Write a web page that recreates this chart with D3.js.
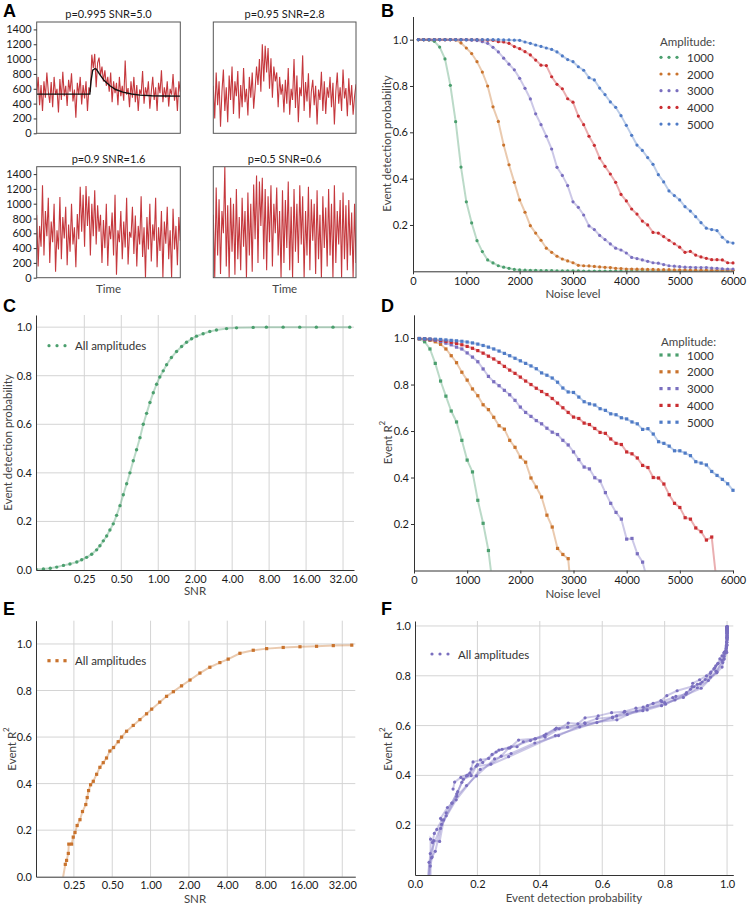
<!DOCTYPE html>
<html><head><meta charset="utf-8">
<script src="https://cdn.jsdelivr.net/npm/d3@7"></script>
<style>body{margin:0;background:#fff}</style>
</head><body>
<svg id="fig" width="747" height="906"></svg>
<script>
// ---------------- DATA ----------------
// Panel A: example traces
const traceTitles = ["p=0.995 SNR=5.0", "p=0.95 SNR=2.8", "p=0.9 SNR=1.6", "p=0.5 SNR=0.6"];
const traceTicks = [0, 200, 400, 600, 800, 1000, 1200, 1400];
const traceA1 = [520,760,380,650,300,700,480,820,560,410,690,350,760,520,600,280,730,450,830,500,640,370,720,560,810,430,590,210,680,520,760,390,650,470,700,300,620,560,1060,880,1070,620,950,1020,780,900,700,850,640,760,560,820,420,700,540,680,380,760,500,640,440,980,520,610,350,700,480,760,420,650,300,590,520,840,400,620,510,700,330,560,760,450,620,300,680,540,850,420,620,480,700,360,600,520,800,440,620,300,700,560];
const traceA2 = [640,200,820,380,700,90,560,860,300,620,150,780,450,900,260,700,500,840,200,650,350,880,420,600,240,760,480,820,330,590,900,650,1000,560,1200,700,1180,820,1150,600,1010,480,900,700,820,350,760,520,660,280,720,400,880,250,600,450,1000,340,780,150,620,500,1050,300,690,430,810,210,560,720,380,640,120,590,450,830,300,700,260,620,480,760,350,680,120,560,820,400,620,300,860,470,610,230,740,380,650,250,500,660];
const traceA3 = [850,150,700,420,1250,300,900,560,1080,200,760,480,1000,80,640,380,1090,250,820,530,960,170,720,350,1000,450,680,140,860,520,1230,620,1120,420,1240,700,1100,300,1000,560,1180,450,980,620,850,200,780,400,1000,160,700,520,880,300,1120,40,640,480,900,250,760,410,1080,180,620,540,960,320,840,150,700,450,1100,280,680,0,820,380,1000,220,720,500,1080,140,680,360,900,0,760,460,960,250,640,0,930,380,700,170,820,500];
const traceA4 = [850,0,1220,300,1060,50,900,600,1500,150,980,0,1080,350,1000,40,1200,250,820,100,1080,420,900,0,1150,300,1000,80,1260,520,1380,200,1300,700,1350,250,1200,100,1100,480,1250,150,1000,600,1220,300,900,0,1180,200,1050,400,1300,100,960,0,1200,350,1000,200,1250,450,1100,0,900,300,1230,100,1060,500,1000,50,1180,250,850,0,1100,400,950,150,1200,300,1000,0,1250,200,900,450,1050,0,1150,250,980,100,1050,300,880,0,1000,200];
const fitTime  = [0, 0.37, 0.378, 0.39, 0.405, 0.415, 0.44, 0.47, 0.51, 0.55, 0.60, 0.66, 0.72, 0.80, 0.90, 1.0];
const fitValue = [528, 528, 700, 850, 871, 865, 790, 710, 641, 590, 555, 530, 515, 507, 503, 501];

// Panels B / D
const amplitudes = [1000, 2000, 3000, 4000, 5000];
const ampColors = ["#4b9f6e", "#c9732d", "#7a6fbf", "#c92d31", "#4f7bc6"];
const noiseLevels = [100,200,300,400,500,600,700,800,900,1000,1100,1200,1300,1400,1500,1600,1700,1800,1900,2000,2100,2200,2300,2400,2500,2600,2700,2800,2900,3000,3100,3200,3300,3400,3500,3600,3700,3800,3900,4000,4100,4200,4300,4400,4500,4600,4700,4800,4900,5000,5100,5200,5300,5400,5500,5600,5700,5800,5900,6000];
const noiseTicks = [0, 1000, 2000, 3000, 4000, 5000, 6000];
const probTicks = [0.2, 0.4, 0.6, 0.8, 1.0];

const detProb1000 = [1.0,1.0,0.999,0.993,0.968,0.917,0.803,0.646,0.45,0.30,0.209,0.132,0.085,0.049,0.036,0.024,0.018,0.013,0.008,0.006,0.005,0.004,0.004,0.003,0.003,0.003,0.002,0.002,0.002,0.002,0.002,0.001,0.001,0.001,0.001,0.001,0.001,0.001,0.001,0.001,0.001,0.001,0.001,0.001,0.001,0.001,0.001,0.001,0.001,0.001,0.001,0.001,0.001,0.001,0.001,0.001,0.001,0.001,0.001,0.001];
const detProb2000 = [1.0,1.0,1.0,1.0,1.0,1.0,1.0,0.999,0.986,0.964,0.94,0.905,0.86,0.80,0.71,0.647,0.545,0.46,0.384,0.308,0.255,0.197,0.165,0.134,0.10,0.082,0.065,0.053,0.045,0.037,0.026,0.024,0.023,0.021,0.019,0.017,0.016,0.013,0.012,0.01,0.01,0.009,0.009,0.008,0.008,0.007,0.007,0.007,0.006,0.006,0.006,0.005,0.005,0.005,0.005,0.004,0.004,0.004,0.004,0.004];
const detProb3000 = [1.0,1.0,1.0,1.0,1.0,1.0,1.0,1.0,1.0,0.999,0.998,0.996,0.991,0.984,0.967,0.947,0.92,0.894,0.87,0.833,0.79,0.744,0.68,0.633,0.583,0.528,0.449,0.414,0.37,0.30,0.276,0.243,0.196,0.18,0.155,0.137,0.118,0.10,0.092,0.079,0.06,0.055,0.049,0.043,0.037,0.035,0.029,0.024,0.022,0.02,0.018,0.017,0.016,0.016,0.016,0.014,0.013,0.011,0.01,0.01];
const detProb4000 = [1.0,1.0,1.0,1.0,1.0,1.0,1.0,1.0,1.0,1.0,1.0,1.0,0.999,0.998,0.997,0.991,0.99,0.984,0.97,0.961,0.948,0.934,0.912,0.89,0.888,0.84,0.807,0.788,0.745,0.73,0.67,0.633,0.583,0.544,0.489,0.453,0.42,0.384,0.332,0.304,0.269,0.247,0.217,0.20,0.168,0.165,0.15,0.134,0.119,0.104,0.082,0.086,0.07,0.062,0.056,0.05,0.05,0.049,0.037,0.036];
const detProb5000 = [1.0,1.0,1.0,1.0,1.0,1.0,1.0,1.0,1.0,1.0,1.0,1.0,1.0,1.0,1.0,1.0,0.999,0.999,0.998,0.997,0.99,0.984,0.977,0.971,0.964,0.958,0.947,0.93,0.914,0.905,0.883,0.868,0.836,0.826,0.791,0.763,0.731,0.708,0.672,0.63,0.587,0.545,0.522,0.491,0.462,0.417,0.386,0.347,0.327,0.308,0.279,0.26,0.236,0.21,0.186,0.18,0.176,0.147,0.127,0.122];

const eventR2_1000 = [0.997,0.984,0.953,0.891,0.815,0.75,0.686,0.639,0.56,0.475,0.424,0.302,0.203,0.086,-0.1];
const eventR2_2000 = [0.997,0.994,0.99,0.984,0.973,0.953,0.924,0.894,0.853,0.819,0.781,0.752,0.713,0.692,0.659,0.623,0.608,0.56,0.53,0.488,0.466,0.398,0.359,0.316,0.238,0.187,0.095,0.069,0.051,-0.2];
const eventR2_3000 = [0.997,0.995,0.993,0.99,0.985,0.978,0.971,0.961,0.953,0.936,0.918,0.898,0.867,0.835,0.812,0.795,0.775,0.756,0.732,0.703,0.68,0.663,0.645,0.631,0.612,0.595,0.585,0.56,0.54,0.51,0.477,0.445,0.437,0.399,0.385,0.335,0.289,0.25,0.221,0.135,0.138,0.072,0.036,-0.05];
const eventR2_4000 = [0.998,0.997,0.995,0.993,0.99,0.986,0.982,0.977,0.971,0.964,0.956,0.946,0.935,0.922,0.91,0.895,0.878,0.862,0.848,0.832,0.815,0.80,0.784,0.77,0.757,0.74,0.72,0.70,0.68,0.66,0.654,0.634,0.628,0.611,0.594,0.59,0.566,0.547,0.542,0.51,0.502,0.484,0.452,0.443,0.40,0.398,0.372,0.326,0.289,0.271,0.227,0.221,0.183,0.167,0.131,0.144,-0.07];
const eventR2_5000 = [0.998,0.997,0.996,0.995,0.994,0.992,0.99,0.988,0.986,0.983,0.979,0.974,0.968,0.961,0.953,0.944,0.934,0.924,0.913,0.902,0.891,0.88,0.868,0.85,0.84,0.828,0.81,0.785,0.768,0.766,0.746,0.726,0.717,0.712,0.696,0.689,0.674,0.67,0.657,0.652,0.639,0.631,0.607,0.61,0.587,0.554,0.547,0.535,0.515,0.515,0.505,0.494,0.468,0.462,0.454,0.426,0.409,0.392,0.373,0.345];

// Panel C: detection probability vs SNR (all amplitudes)
const snrTicks = [0.25, 0.5, 1, 2, 4, 8, 16, 32];
const cSnr  = [0.101,0.116,0.132,0.149,0.169,0.191,0.217,0.238,0.261,0.287,0.315,0.335,0.357,0.38,0.404,0.43,0.458,0.488,0.519,0.553,0.588,0.626,0.666,0.71,0.755,0.804,0.856,0.911,0.97,1.03,1.098,1.17,1.28,1.41,1.55,1.70,1.87,2.05,2.32,2.63,2.98,3.6,4.34,5.93,7.6,10.4,14.2,19.4,26.5,36.3];
const cProb = [0.003,0.004,0.007,0.012,0.019,0.025,0.033,0.042,0.052,0.065,0.083,0.10,0.12,0.14,0.165,0.19,0.225,0.265,0.31,0.355,0.40,0.45,0.495,0.545,0.60,0.645,0.69,0.73,0.765,0.795,0.82,0.845,0.875,0.9,0.92,0.938,0.952,0.963,0.973,0.982,0.988,0.994,0.997,0.999,1,1,1,1,1,1];

// Panel E: event R^2 vs SNR (all amplitudes)
const eSnr = [0.20,0.214,0.219,0.226,0.228,0.24,0.247,0.255,0.265,0.279,0.292,0.31,0.318,0.326,0.338,0.355,0.377,0.40,0.425,0.451,0.479,0.512,0.557,0.592,0.648,0.731,0.825,0.93,1.02,1.18,1.335,1.51,1.75,2.04,2.44,2.92,3.5,4.07,5.03,6.4,8.15,11.0,14.9,20.1,27.2,38];
const eR2  = [-0.04,0.053,0.07,0.1,0.14,0.14,0.17,0.19,0.22,0.245,0.28,0.31,0.34,0.37,0.395,0.41,0.44,0.47,0.49,0.51,0.54,0.555,0.58,0.6,0.625,0.65,0.675,0.70,0.72,0.75,0.775,0.795,0.82,0.845,0.875,0.9,0.92,0.935,0.96,0.973,0.98,0.985,0.988,0.99,0.993,0.995];

const unitTicks = [0, 0.2, 0.4, 0.6, 0.8, 1.0];

// ---------------- DRAWING ----------------
const FONT = 'Lato, "Noto Sans", sans-serif';
const svg = d3.select("#fig");
const defs = svg.append("defs");
const detProbs = [detProb1000, detProb2000, detProb3000, detProb4000, detProb5000];
const eventR2s = [eventR2_1000, eventR2_2000, eventR2_3000, eventR2_4000, eventR2_5000];

function clip(id, x0, y0, x1, y1) {
  defs.append("clipPath").attr("id", id).append("rect")
    .attr("x", x0).attr("y", y0).attr("width", x1 - x0).attr("height", y1 - y0);
  return "url(#" + id + ")";
}
function styleAxis(g, size) {
  g.selectAll("path.domain").attr("stroke", "#333").attr("stroke-width", 1);
  g.selectAll(".tick line").attr("stroke", "#333");
  g.selectAll(".tick text").attr("font-family", FONT).attr("font-size", size || 11).attr("fill", "#1a1a1a");
}
function panelLetter(t, x, y) {
  svg.append("text").attr("x", x).attr("y", y).text(t)
    .attr("font-family", "Liberation Sans, Arial, sans-serif").attr("font-weight", "bold").attr("font-size", 18).attr("fill", "#000");
}
function xLabel(t, x, y) {
  svg.append("text").attr("x", x).attr("y", y).attr("text-anchor", "middle").text(t)
    .attr("font-family", FONT).attr("font-size", 11.5).attr("fill", "#444");
}
function yLabel(t, x, y, sup) {
  const tx = svg.append("text").attr("transform", `translate(${x},${y}) rotate(-90)`)
    .attr("text-anchor", "middle").attr("dominant-baseline", "central")
    .attr("font-family", FONT).attr("font-size", 11.5).attr("fill", "#444");
  tx.append("tspan").text(t);
  if (sup) tx.append("tspan").attr("dy", -5).attr("font-size", 8).text(sup);
}
function drawSeries(g, pts, color, marker, xS, yS, r) {
  const line = d3.line().x(d => xS(d[0])).y(d => yS(d[1]));
  g.append("path").datum(pts).attr("d", line).attr("fill", "none")
    .attr("stroke", color).attr("stroke-opacity", 0.38).attr("stroke-width", 2);
  r = r || 1.6;
  if (marker === "circle") {
    g.selectAll(null).data(pts).join("circle")
      .attr("cx", d => xS(d[0])).attr("cy", d => yS(d[1])).attr("r", r).attr("fill", color);
  } else {
    g.selectAll(null).data(pts).join("rect")
      .attr("x", d => xS(d[0]) - r).attr("y", d => yS(d[1]) - r)
      .attr("width", 2 * r).attr("height", 2 * r).attr("fill", color);
  }
}
function grid(g, xS, yS, xv, yv) {
  const [x0, x1] = xS.range(), [y0, y1] = yS.range();
  g.selectAll(null).data(xv).join("line")
    .attr("x1", d => xS(d)).attr("x2", d => xS(d)).attr("y1", y0).attr("y2", y1)
    .attr("stroke", "#d4d4d4").attr("stroke-width", 1);
  g.selectAll(null).data(yv).join("line")
    .attr("x1", x0).attr("x2", x1).attr("y1", d => yS(d)).attr("y2", d => yS(d))
    .attr("stroke", "#d4d4d4").attr("stroke-width", 1);
}
function dotLegend(x, y, color, marker, label) {
  const g = svg.append("g");
  [0, 8, 16].forEach(dx => {
    if (marker === "circle") g.append("circle").attr("cx", x + dx).attr("cy", y).attr("r", 1.6).attr("fill", color);
    else g.append("rect").attr("x", x + dx - 1.6).attr("y", y - 1.6).attr("width", 3.2).attr("height", 3.2).attr("fill", color);
  });
  g.append("text").attr("x", x + 26).attr("y", y).attr("dominant-baseline", "central")
    .attr("font-family", FONT).attr("font-size", 11.5).attr("fill", "#333").text(label);
}

// ---- Panel A ----
panelLetter("A", 3, 17);
const traces = [traceA1, traceA2, traceA3, traceA4];
const boxes = [
  { x0: 36.7, x1: 180.3, y0: 22, y1: 133.3 },
  { x0: 213.3, x1: 356, y0: 22, y1: 133.3 },
  { x0: 36.7, x1: 180.3, y0: 166.7, y1: 277.7 },
  { x0: 213.3, x1: 356, y0: 166.7, y1: 277.7 }
];
boxes.forEach((b, i) => {
  const data = traces[i];
  const xS = d3.scaleLinear().domain([0, data.length - 1]).range([b.x0, b.x1]);
  const yS = d3.scaleLinear().domain([0, 1500]).range([b.y1, b.y0]);
  const g = svg.append("g").attr("clip-path", clip("clipA" + i, b.x0, b.y0, b.x1, b.y1));
  g.append("path").datum(data).attr("fill", "none").attr("stroke", "#c0272d").attr("stroke-width", 1.1)
    .attr("stroke-opacity", 0.92)
    .attr("d", d3.line().x((d, j) => xS(j)).y(d => yS(d)));
  if (i === 0) {
    const fS = d3.scaleLinear().domain([0, 1]).range([b.x0, b.x1]);
    g.append("path").datum(fitTime.map((t, j) => [t, fitValue[j]])).attr("fill", "none")
      .attr("stroke", "#111").attr("stroke-width", 1.4)
      .attr("d", d3.line().x(d => fS(d[0])).y(d => yS(d[1])));
  }
  svg.append("rect").attr("x", b.x0).attr("y", b.y0).attr("width", b.x1 - b.x0).attr("height", b.y1 - b.y0)
    .attr("fill", "none").attr("stroke", "#555").attr("stroke-width", 1);
  if (i % 2 === 0) {
    const ax = svg.append("g").attr("transform", `translate(${b.x0},0)`)
      .call(d3.axisLeft(yS).tickValues(traceTicks).tickSize(3).tickPadding(2).tickSizeOuter(0).tickFormat(d3.format("d")));
    ax.select("path.domain").remove();
    styleAxis(ax, 11);
  }
  svg.append("text").attr("x", (b.x0 + b.x1) / 2).attr("y", b.y0 - 4).attr("text-anchor", "middle")
    .attr("font-family", FONT).attr("font-size", 11).attr("fill", "#1a1a1a").text(traceTitles[i]);
  if (i >= 2) xLabel("Time", (b.x0 + b.x1) / 2, 293);
});

// ---- Panel B ----
panelLetter("B", 381, 17);
{
  const xS = d3.scaleLinear().domain([0, 6000]).range([413, 733]);
  const yS = d3.scaleLinear().domain([0, 1.1]).range([271.3, 16.5]);
  const g = svg.append("g").attr("clip-path", clip("clipB", 413, 16.5, 736, 271.3));
  detProbs.forEach((arr, k) => {
    const pts = arr.map((v, i) => [noiseLevels[i], v]);
    drawSeries(g, pts, ampColors[k], "circle", xS, yS, 1.6);
  });
  const ax = svg.append("g").attr("transform", "translate(0,271.3)")
    .call(d3.axisBottom(xS).tickValues(noiseTicks).tickSize(3).tickSizeOuter(0).tickFormat(d3.format("d")));
  styleAxis(ax);
  const ay = svg.append("g").attr("transform", "translate(413,0)")
    .call(d3.axisLeft(yS).tickValues(probTicks).tickSize(3).tickPadding(2).tickSizeOuter(0).tickFormat(d3.format(".1f")));
  styleAxis(ay);
  xLabel("Noise level", 573, 298);
  yLabel("Event detection probability", 386, 143.5);
  svg.append("text").attr("x", 660).attr("y", 41).attr("dominant-baseline", "central")
    .attr("font-family", FONT).attr("font-size", 11.5).attr("fill", "#444").text("Amplitude:");
  amplitudes.forEach((a, k) => dotLegend(661, 57.3 + k * 16.7, ampColors[k], "circle", String(a)));
}

// ---- Panel C ----
panelLetter("C", 3, 312);
{
  const xS = d3.scaleLog().base(2).domain([0.101, 39.3]).range([36, 354]);
  const yS = d3.scaleLinear().domain([0, 1.05]).range([570, 315]);
  const gg = svg.append("g");
  grid(gg, xS, yS, snrTicks, [0.2, 0.4, 0.6, 0.8, 1.0]);
  const g = svg.append("g").attr("clip-path", clip("clipC", 36, 310, 358, 570));
  drawSeries(g, cSnr.map((s, i) => [s, cProb[i]]), ampColors[0], "circle", xS, yS, 1.7);
  const ax = svg.append("g").attr("transform", "translate(0,570)")
    .call(d3.axisBottom(xS).tickValues(snrTicks).tickSize(0).tickPadding(5).tickSizeOuter(0).tickFormat(d3.format(".2f")));
  styleAxis(ax);
  const ay = svg.append("g").attr("transform", "translate(36,0)")
    .call(d3.axisLeft(yS).tickValues(unitTicks).tickSize(0).tickPadding(4).tickSizeOuter(0).tickFormat(d3.format(".1f")));
  styleAxis(ay);
  xLabel("SNR", 195, 595);
  yLabel("Event detection probability", 7, 442.5);
  dotLegend(49, 345.7, ampColors[0], "circle", "All amplitudes");
}

// ---- Panel D ----
panelLetter("D", 381, 312);
{
  const xS = d3.scaleLinear().domain([0, 6000]).range([414, 733]);
  const yS = d3.scaleLinear().domain([0, 1.1]).range([570.5, 314.8]);
  const g = svg.append("g").attr("clip-path", clip("clipD", 414, 310, 737, 570.5));
  eventR2s.forEach((arr, k) => {
    const pts = arr.map((v, i) => [noiseLevels[i], v]);
    drawSeries(g, pts, ampColors[k], "square", xS, yS, 1.6);
  });
  const ax = svg.append("g").attr("transform", "translate(0,570.5)")
    .call(d3.axisBottom(xS).tickValues(noiseTicks).tickSize(3).tickSizeOuter(0).tickFormat(d3.format("d")));
  styleAxis(ax);
  const ay = svg.append("g").attr("transform", "translate(414,0)")
    .call(d3.axisLeft(yS).tickValues(probTicks).tickSize(3).tickPadding(2).tickSizeOuter(0).tickFormat(d3.format(".1f")));
  styleAxis(ay);
  xLabel("Noise level", 573, 598);
  yLabel("Event R", 387, 442.5, "2");
  svg.append("text").attr("x", 661).attr("y", 341.7).attr("dominant-baseline", "central")
    .attr("font-family", FONT).attr("font-size", 11.5).attr("fill", "#444").text("Amplitude:");
  amplitudes.forEach((a, k) => dotLegend(661, 355 + k * 16.8, ampColors[k], "square", String(a)));
}

// ---- Panel E ----
panelLetter("E", 3, 615);
{
  const xS = d3.scaleLog().base(2).domain([0.126, 40.5]).range([36, 355.3]);
  const yS = d3.scaleLinear().domain([0, 1.1]).range([876.7, 620.7]);
  const gg = svg.append("g");
  grid(gg, xS, yS, snrTicks, [0.2, 0.4, 0.6, 0.8, 1.0]);
  const g = svg.append("g").attr("clip-path", clip("clipE", 36, 615, 359, 876.7));
  drawSeries(g, eSnr.map((s, i) => [s, eR2[i]]), ampColors[1], "square", xS, yS, 1.6);
  const ax = svg.append("g").attr("transform", "translate(0,876.7)")
    .call(d3.axisBottom(xS).tickValues(snrTicks).tickSize(0).tickPadding(5).tickSizeOuter(0).tickFormat(d3.format(".2f")));
  styleAxis(ax);
  const ay = svg.append("g").attr("transform", "translate(36,0)")
    .call(d3.axisLeft(yS).tickValues(unitTicks).tickSize(0).tickPadding(4).tickSizeOuter(0).tickFormat(d3.format(".1f")));
  styleAxis(ay);
  xLabel("SNR", 195, 903);
  yLabel("Event R", 11, 749, "2");
  dotLegend(49, 660.7, ampColors[1], "square", "All amplitudes");
}

// ---- Panel F ----
panelLetter("F", 381, 615);
{
  const xS = d3.scaleLinear().domain([0, 1.02]).range([415, 733.3]);
  const yS = d3.scaleLinear().domain([0, 1.02]).range([875, 621]);
  const gg = svg.append("g");
  grid(gg, xS, yS, [0.2, 0.4, 0.6, 0.8, 1.0], [0.2, 0.4, 0.6, 0.8, 1.0]);
  const g = svg.append("g").attr("clip-path", clip("clipF", 415, 615, 737, 875));
  eventR2s.forEach((arr, k) => {
    const pts = arr.map((v, i) => [detProbs[k][i], v]);
    drawSeries(g, pts, ampColors[2], "circle", xS, yS, 1.6);
  });
  const ax = svg.append("g").attr("transform", "translate(0,875)")
    .call(d3.axisBottom(xS).tickValues(unitTicks).tickSize(0).tickPadding(5).tickSizeOuter(0).tickFormat(d3.format(".1f")));
  styleAxis(ax);
  const ay = svg.append("g").attr("transform", "translate(415,0)")
    .call(d3.axisLeft(yS).tickValues(probTicks).tickSize(0).tickPadding(4).tickSizeOuter(0).tickFormat(d3.format(".1f")));
  styleAxis(ay);
  xLabel("Event detection probability", 574, 902);
  yLabel("Event R", 387, 749, "2");
  dotLegend(432, 654, ampColors[2], "circle", "All amplitudes");
}
</script>
</body></html>
